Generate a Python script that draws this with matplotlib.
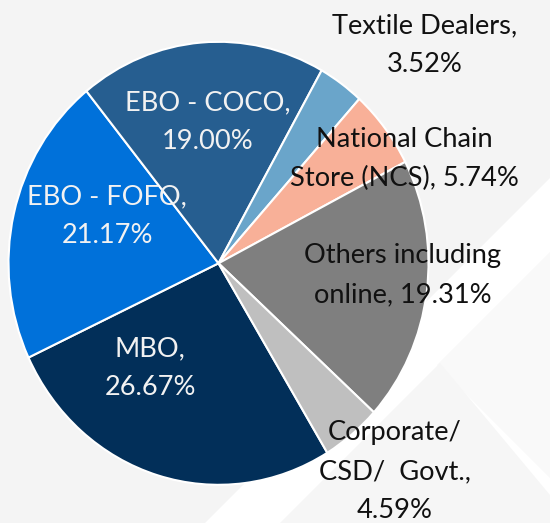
import matplotlib.pyplot as plt
from matplotlib.patches import Polygon

# sales channel mix, clockwise from the lower-right
CHANNELS = ["MBO", "EBO - FOFO", "EBO - COCO", "Textile Dealers",
            "National Chain\nStore (NCS)", "Others including\nonline",
            "Corporate/\nCSD/  Govt."]
SHARES = [26.67, 21.17, 19.00, 3.52, 5.74, 19.31, 4.59]
SEP = ["\n", "\n", "\n", "\n", " ", " ", "\n"]

COLORS = ["#022f59", "#0071da", "#265e90", "#6aa5ca", "#f8b098", "#7f7f7f", "#bfbfbf"]
TEXT_COLORS = ["#f2f2f2", "#f2f2f2", "#f2f2f2", "#111111", "#111111", "#111111", "#111111"]

# label centres in pixels of the 550x523 picture (x from left, y from top)
LABEL_PX = [(150, 368), (107, 216), (208, 122), (425, 45), (404, 159), (403, 275), (395, 472)]

W, H = 550, 523
CX, CY = 218.5, 263.3   # pie centre, px
RX, RY = 210.0, 221.5   # pie radii, px

fig = plt.figure(figsize=(W / 100, H / 100), dpi=100)
fig.patch.set_facecolor("#f4f4f4")

# decorative chevrons in the background
bg = fig.add_axes([0, 0, 1, 1], zorder=0)
bg.set_xlim(0, W)
bg.set_ylim(H, 0)
bg.axis("off")
bg.add_patch(Polygon([(550, 178), (205, 523), (550, 523)], closed=True, fc="white", ec="none"))
bg.add_patch(Polygon([(550, 252), (437, 365), (550, 478)], closed=True, fc="#f9f9f9", ec="none"))
bg.add_patch(Polygon([(280, 523), (440, 363), (550, 495), (550, 523)], closed=True, fc="#f6f6f6", ec="none"))

ax = fig.add_axes([0, 0, 1, 1], zorder=1)
ax.patch.set_alpha(0)
ax.pie(SHARES, colors=COLORS, startangle=-58.8, counterclock=False, radius=1,
       wedgeprops=dict(edgecolor="white", linewidth=1.5))
ax.set_aspect("auto")
ax.set_xlim(-CX / RX, (W - CX) / RX)
ax.set_ylim(-(H - CY) / RY, CY / RY)
ax.axis("off")

for name, v, sep, (px, py), tc in zip(CHANNELS, SHARES, SEP, LABEL_PX, TEXT_COLORS):
    ax.text((px - CX) / RX, (CY - py) / RY, f"{name},{sep}{v:.2f}%",
            ha="center", va="center", fontsize=19.6, family="Lato",
            color=tc, linespacing=1.7)

fig.savefig("out.png", dpi=100, facecolor=fig.get_facecolor())
